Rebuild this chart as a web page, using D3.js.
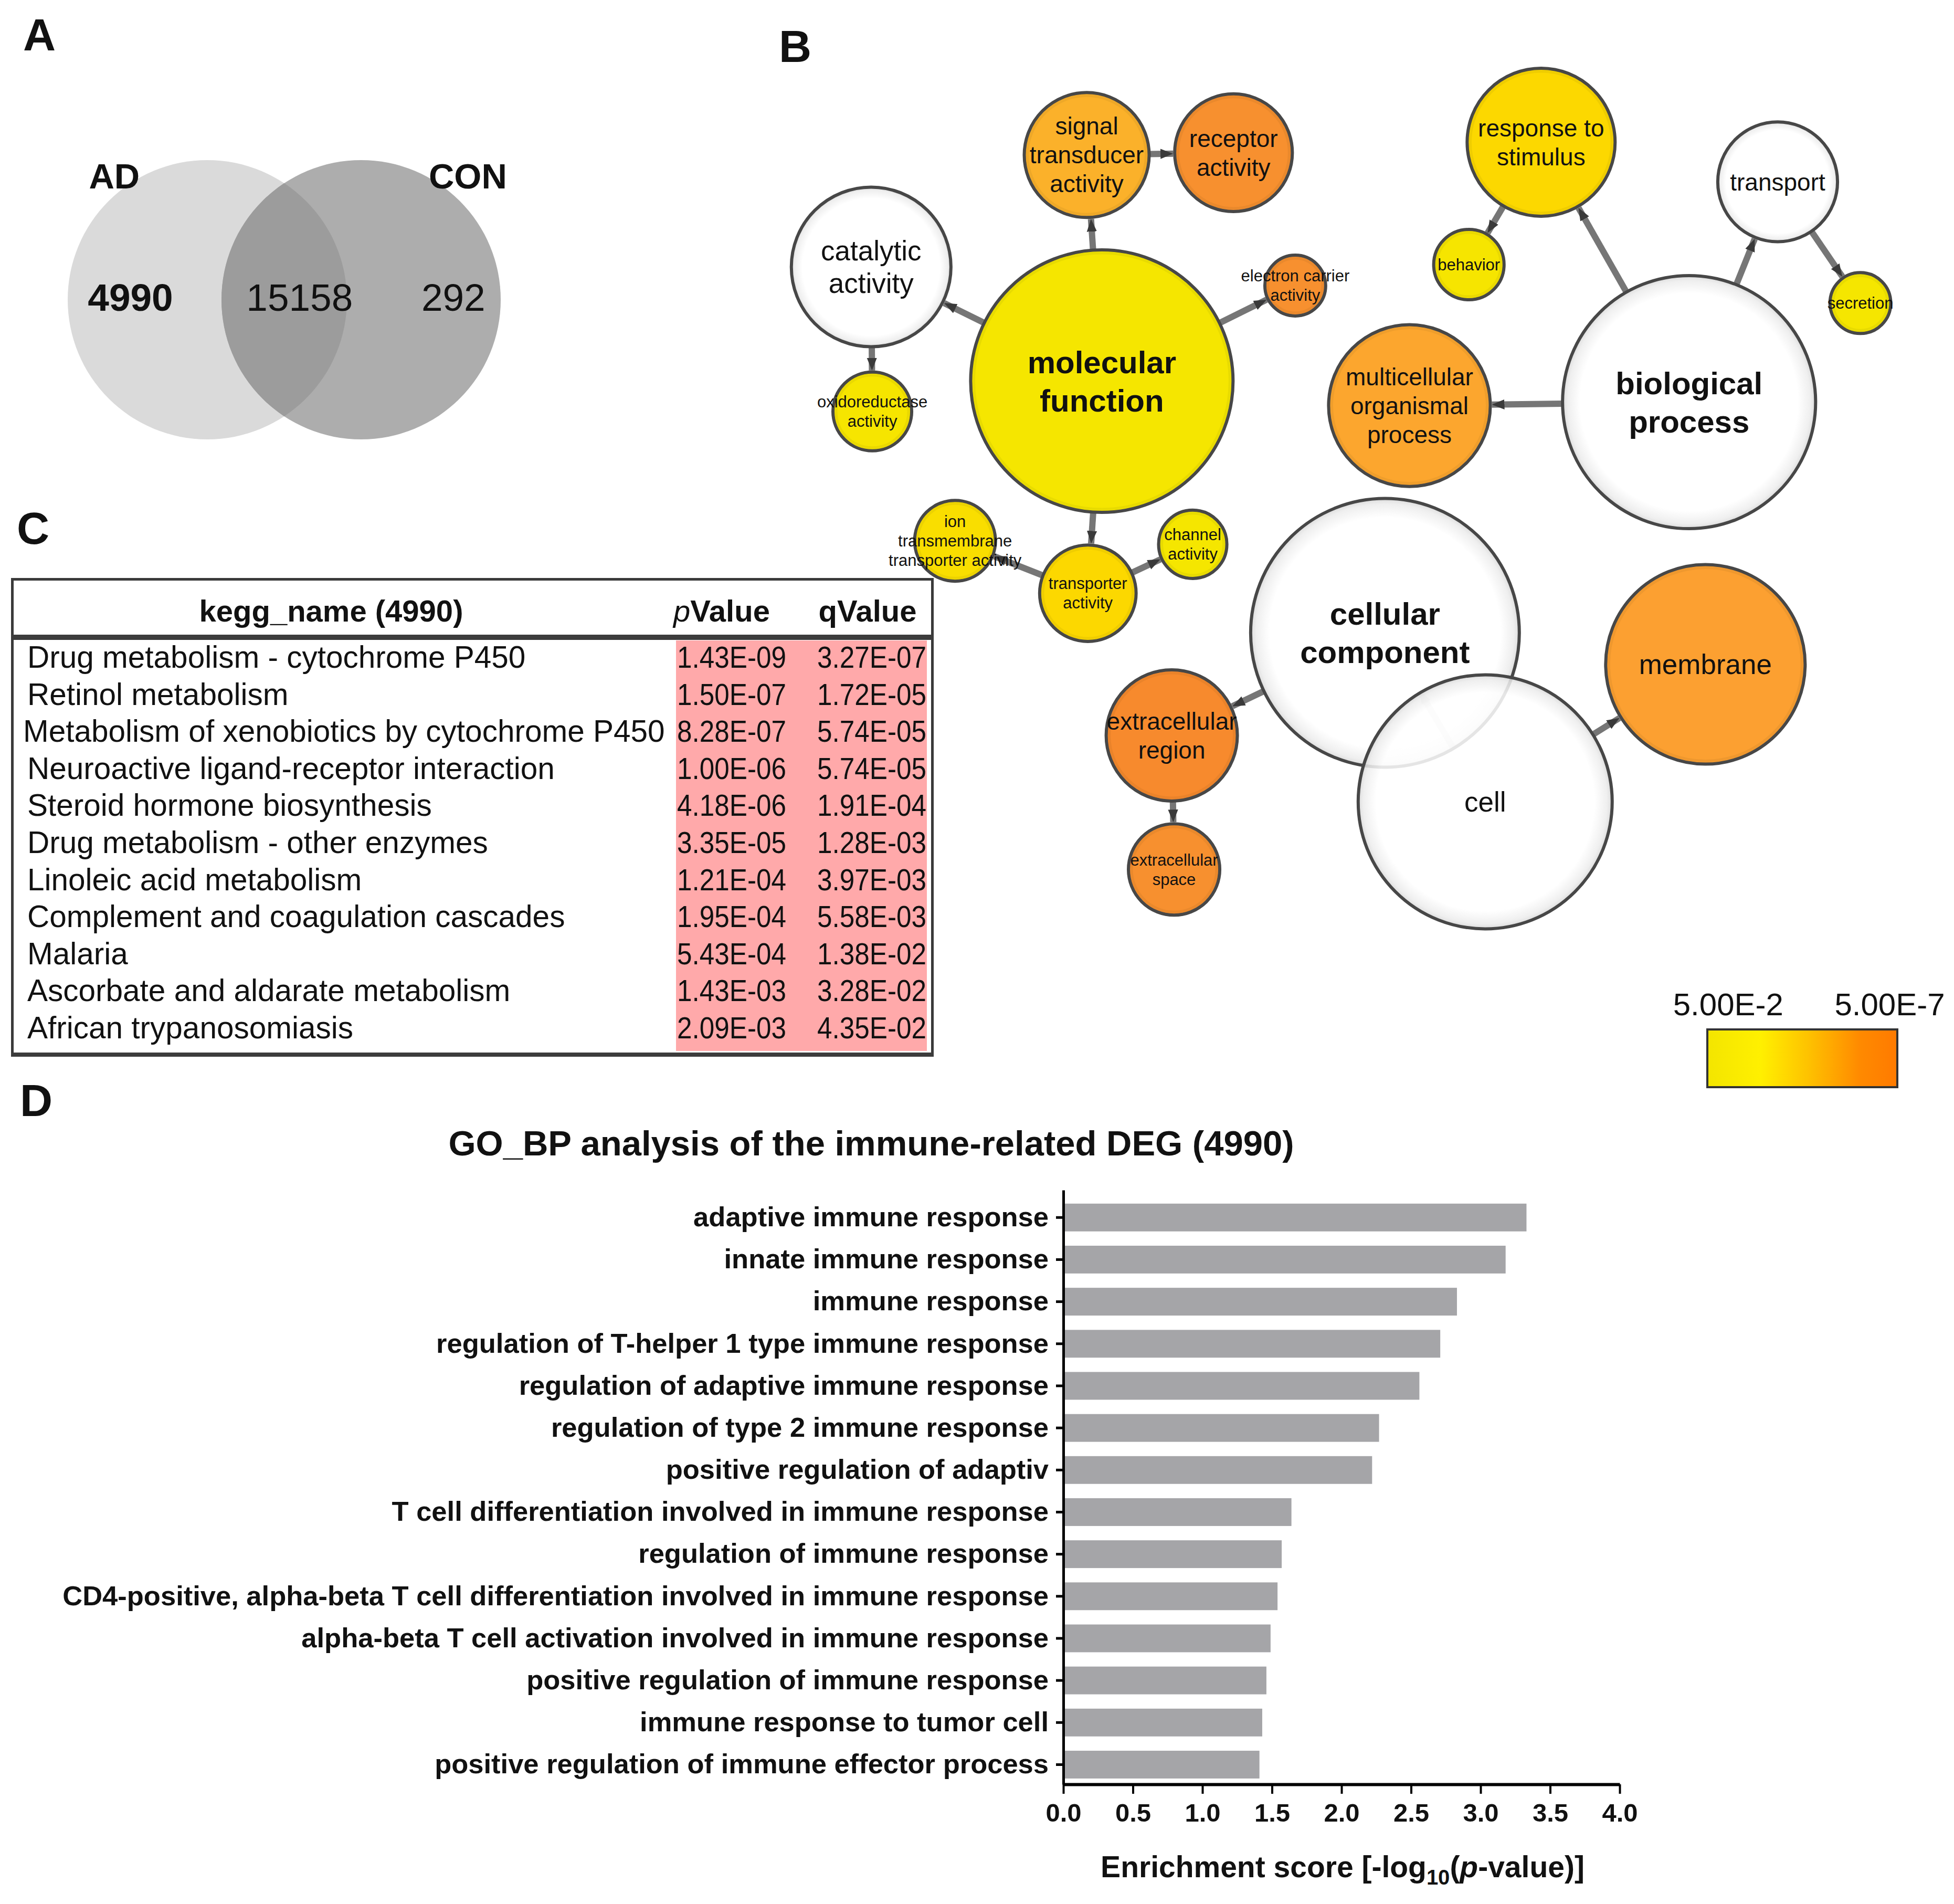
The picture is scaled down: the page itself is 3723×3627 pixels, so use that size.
<!DOCTYPE html>
<html>
<head>
<meta charset="utf-8">
<script src="https://cdn.jsdelivr.net/npm/d3@7"></script>
<style>
  body { margin: 0; background: #fff; }
  text { font-family: "Liberation Sans", Arial, Helvetica, sans-serif; fill: #111; }
</style>
</head>
<body>
<div id="fig"></div>
<script>
const WIDTH = 3723;
const HEIGHT = 3627;

// ---------- data ----------
// A: Venn counts (AD only, shared, CON only)
const vennSets = ["AD", "CON"];
const vennCounts = [4990, 15158, 292];

// B: GO bubble network (layout units, size units, -log10 p ; null = not significant)
const goIds = ["MF", "ST", "RA", "CA", "OX", "EC", "TA", "IT", "CH",
               "BP", "RS", "BEH", "TR", "SEC", "MOP",
               "CC", "ER", "ES", "CELL", "MEM"];
const goTerms = ["molecular\nfunction", "signal\ntransducer\nactivity", "receptor\nactivity",
                 "catalytic\nactivity", "oxidoreductase\nactivity", "electron carrier\nactivity",
                 "transporter\nactivity", "ion\ntransmembrane\ntransporter activity", "channel\nactivity",
                 "biological\nprocess", "response to\nstimulus", "behavior", "transport", "secretion",
                 "multicellular\norganismal\nprocess",
                 "cellular\ncomponent", "extracellular\nregion", "extracellular\nspace", "cell", "membrane"];
const goX = [27.9, 26.6, 39.2, 8.1, 8.2, 44.5, 26.7, 15.3, 35.7,
             78.3, 65.6, 59.4, 85.9, 93.0, 54.3,
             52.2, 33.9, 34.1, 60.8, 79.7];
const goY = [28.2, 8.8, 8.6, 18.4, 30.8, 20.0, 46.4, 41.9, 42.2,
             30.0, 7.7, 18.2, 11.1, 21.5, 30.3,
             49.8, 58.6, 70.1, 64.3, 52.5];
const goSize = [11.26, 5.36, 5.05, 6.85, 3.38, 2.61, 4.14, 3.47, 2.93,
                10.86, 6.35, 3.02, 5.14, 2.61, 6.94,
                11.53, 5.63, 3.92, 10.9, 8.56];
const goLogP = [1.3, 3.7, 5.5, null, 1.4, 5.5, 2.5, 2.0, 1.3,
                null, 2.5, 1.4, null, 1.3, 4.2,
                null, 5.9, 5.5, null, 4.5];
const goRoots = ["MF", "BP", "CC"];
const goEdges = [["MF", "ST"], ["ST", "RA"], ["MF", "CA"], ["CA", "OX"], ["MF", "EC"],
                 ["MF", "TA"], ["TA", "IT"], ["TA", "CH"],
                 ["BP", "RS"], ["RS", "BEH"], ["BP", "TR"], ["TR", "SEC"], ["BP", "MOP"],
                 ["CC", "ER"], ["ER", "ES"], ["CC", "CELL"], ["CELL", "MEM"]];
const legendLabels = ["5.00E-2", "5.00E-7"];

// C: KEGG table
const keggHeader = ["kegg_name (4990)", "pValue", "qValue"];
const keggNames = ["Drug metabolism - cytochrome P450", "Retinol metabolism",
                   "Metabolism of xenobiotics by cytochrome P450", "Neuroactive ligand-receptor interaction",
                   "Steroid hormone biosynthesis", "Drug metabolism - other enzymes",
                   "Linoleic acid metabolism", "Complement and coagulation cascades", "Malaria",
                   "Ascorbate and aldarate metabolism", "African trypanosomiasis"];
const keggP = ["1.43E-09", "1.50E-07", "8.28E-07", "1.00E-06", "4.18E-06", "3.35E-05",
               "1.21E-04", "1.95E-04", "5.43E-04", "1.43E-03", "2.09E-03"];
const keggQ = ["3.27E-07", "1.72E-05", "5.74E-05", "5.74E-05", "1.91E-04", "1.28E-03",
               "3.97E-03", "5.58E-03", "1.38E-02", "3.28E-02", "4.35E-02"];

// D: GO_BP bar chart
const bpTitle = "GO_BP analysis of the immune-related DEG (4990)";
const bpTerms = ["adaptive immune response", "innate immune response", "immune response",
                 "regulation of T-helper 1 type immune response", "regulation of adaptive immune response",
                 "regulation of type 2 immune response", "positive regulation of adaptiv",
                 "T cell differentiation involved in immune response", "regulation of immune response",
                 "CD4-positive, alpha-beta T cell differentiation involved in immune response",
                 "alpha-beta T cell activation involved in immune response",
                 "positive regulation of immune response", "immune response to tumor cell",
                 "positive regulation of immune effector process"];
const bpScores = [3.33, 3.18, 2.83, 2.71, 2.56, 2.27, 2.22, 1.64, 1.57, 1.54, 1.49, 1.46, 1.43, 1.41];
const bpTicks = [0, 0.5, 1, 1.5, 2, 2.5, 3, 3.5, 4];

// ---------- svg ----------
const SVG = d3.select("#fig").append("svg")
  .attr("width", WIDTH).attr("height", HEIGHT);
SVG.append("rect").attr("width", WIDTH).attr("height", HEIGHT).attr("fill", "#fff");
const defs = SVG.append("defs");

// panel letters
const letters = [["A", 44, 96], ["B", 1484, 118], ["C", 32, 1036], ["D", 38, 2126]];
SVG.selectAll(".letter").data(letters).join("text")
  .attr("class", "letter")
  .attr("x", d => d[1]).attr("y", d => d[2])
  .attr("font-size", 86).attr("font-weight", "bold")
  .text(d => d[0]);

// ---------- A: venn ----------
const xVenn = d3.scaleLinear().domain([0, 1]).range([395, 688]);
const vennR = 266, vennCy = 571;
const venn = SVG.append("g");
defs.append("clipPath").attr("id", "clipAD")
  .append("circle").attr("cx", xVenn(0)).attr("cy", vennCy).attr("r", vennR);
venn.append("circle").attr("cx", xVenn(0)).attr("cy", vennCy).attr("r", vennR).attr("fill", "#dadada");
venn.append("circle").attr("cx", xVenn(1)).attr("cy", vennCy).attr("r", vennR).attr("fill", "#adadad");
venn.append("circle").attr("cx", xVenn(1)).attr("cy", vennCy).attr("r", vennR)
  .attr("fill", "#9c9c9c").attr("clip-path", "url(#clipAD)");

venn.selectAll(".setlab").data(vennSets).join("text")
  .attr("class", "setlab")
  .attr("x", (d, i) => xVenn(i === 0 ? -0.77 : 1.44))
  .attr("y", 359)
  .attr("font-size", 67).attr("font-weight", "bold")
  .text(d => d);

const vennPos = [-0.5, 0.6, 1.6];
venn.selectAll(".count").data(vennCounts).join("text")
  .attr("class", "count")
  .attr("x", (d, i) => xVenn(vennPos[i]))
  .attr("y", 592)
  .attr("text-anchor", "middle")
  .attr("font-size", 73)
  .attr("font-weight", (d, i) => i === 0 ? "bold" : "normal")
  .text(d => d);

// ---------- B: GO network ----------
const xB = d3.scaleLinear().domain([0, 100]).range([1480, 3700]);
const yB = d3.scaleLinear().domain([0, 100]).range([100, 2320]);
const rB = d3.scaleLinear().domain([0, 100]).range([0, 2220]);
const colorP = d3.scaleLinear()
  .domain([1.3, 2.5, 3.7, 4.5, 5.5, 6.3])
  .range(["#f5e600", "#fcd800", "#fbb12a", "#fca031", "#f7902f", "#f7842a"]);

const nodes = goIds.map((id, i) => ({
  id: id,
  label: goTerms[i],
  cx: xB(goX[i]),
  cy: yB(goY[i]),
  r: rB(goSize[i]),
  logp: goLogP[i],
  root: goRoots.includes(id)
}));
const nodeById = new Map(nodes.map(d => [d.id, d]));

const wg = defs.append("radialGradient").attr("id", "whiteFill");
wg.append("stop").attr("offset", "0%").attr("stop-color", "#ffffff");
wg.append("stop").attr("offset", "86%").attr("stop-color", "#ffffff");
wg.append("stop").attr("offset", "96%").attr("stop-color", "#ececec");
wg.append("stop").attr("offset", "100%").attr("stop-color", "#d6d6d6");

defs.append("marker").attr("id", "arrow")
  .attr("viewBox", "0 -5 10 10").attr("refX", 10).attr("refY", 0)
  .attr("markerUnits", "userSpaceOnUse")
  .attr("markerWidth", 24).attr("markerHeight", 24)
  .attr("orient", "auto")
  .append("path").attr("d", "M0,-4L10,0L0,4Z").attr("fill", "#3a3a3a");

const net = SVG.append("g");
const edgeData = goEdges.map(e => {
  const s = nodeById.get(e[0]), t = nodeById.get(e[1]);
  const dx = t.cx - s.cx, dy = t.cy - s.cy;
  const len = Math.sqrt(dx * dx + dy * dy);
  const ux = dx / len, uy = dy / len;
  return {
    x1: s.cx + ux * s.r, y1: s.cy + uy * s.r,
    x2: t.cx - ux * (t.r + 3), y2: t.cy - uy * (t.r + 3)
  };
});
net.selectAll(".edge").data(edgeData).join("line")
  .attr("class", "edge")
  .attr("x1", d => d.x1).attr("y1", d => d.y1)
  .attr("x2", d => d.x2).attr("y2", d => d.y2)
  .attr("stroke", "#767676").attr("stroke-width", 12)
  .attr("marker-end", "url(#arrow)");

const nodeG = net.selectAll(".node").data(nodes).join("g").attr("class", "node");
nodeG.append("circle")
  .attr("cx", d => d.cx).attr("cy", d => d.cy).attr("r", d => d.r)
  .attr("fill", d => d.logp === null ? "url(#whiteFill)" : colorP(d.logp))
  .attr("fill-opacity", d => d.logp === null ? 0.86 : 1)
  .attr("stroke", "#474747").attr("stroke-width", 6);
// darker inner rim on coloured nodes
nodeG.filter(d => d.logp !== null).append("circle")
  .attr("cx", d => d.cx).attr("cy", d => d.cy).attr("r", d => d.r - 6)
  .attr("fill", "none")
  .attr("stroke", d => d3.color(colorP(d.logp)).darker(0.3))
  .attr("stroke-width", 5).attr("stroke-opacity", 0.5);

// a few terms are drawn with a larger label in the original
const bigLabels = ["CA", "CELL", "MEM"];
function labelStyle(d) {
  if (d.root) return { fs: 60, lh: 73, fw: "bold" };
  if (bigLabels.includes(d.id)) return { fs: 53, lh: 62, fw: "normal" };
  if (d.r >= 100) return { fs: 46, lh: 55, fw: "normal" };
  return { fs: 31, lh: 37, fw: "normal" };
}
nodeG.each(function(d) {
  const st = labelStyle(d);
  const lines = d.label.split("\n");
  const t = d3.select(this).append("text")
    .attr("text-anchor", "middle")
    .attr("font-size", st.fs).attr("font-weight", st.fw);
  lines.forEach((ln, i) => {
    t.append("tspan")
      .attr("x", d.cx)
      .attr("y", d.cy + (i - (lines.length - 1) / 2) * st.lh + 0.35 * st.fs)
      .text(ln);
  });
});

// legend
const lg = defs.append("linearGradient").attr("id", "legendGrad");
[["0%", "#f3e500"], ["28%", "#fff000"], ["52%", "#fec400"], ["80%", "#ff8a00"], ["100%", "#ff7a00"]]
  .forEach(s => lg.append("stop").attr("offset", s[0]).attr("stop-color", s[1]));
const xLeg = d3.scaleLinear().domain([0, 1]).range([3253, 3615]);
SVG.append("rect")
  .attr("x", xLeg(0)).attr("y", 1961)
  .attr("width", xLeg(1) - xLeg(0)).attr("height", 110)
  .attr("fill", "url(#legendGrad)")
  .attr("stroke", "#333").attr("stroke-width", 4);
SVG.selectAll(".leglab").data(legendLabels).join("text")
  .attr("class", "leglab")
  .attr("x", (d, i) => i === 0 ? xLeg(0.11) : xLeg(0.96))
  .attr("y", 1934)
  .attr("text-anchor", "middle")
  .attr("font-size", 60)
  .text(d => d);

// ---------- C: KEGG table ----------
const tab = SVG.append("g");
const yRow = d3.scalePoint().domain(d3.range(keggNames.length)).range([1272, 1978]);
tab.append("rect").attr("x", 1288).attr("y", 1220).attr("width", 478).attr("height", 782)
  .attr("fill", "#ffa9aa");
// borders
tab.append("rect").attr("x", 21).attr("y", 1101).attr("width", 1758).attr("height", 5).attr("fill", "#3a3a3a");
tab.append("rect").attr("x", 21).attr("y", 1101).attr("width", 5).attr("height", 912).attr("fill", "#3a3a3a");
tab.append("rect").attr("x", 1774).attr("y", 1101).attr("width", 5).attr("height", 912).attr("fill", "#3a3a3a");
tab.append("rect").attr("x", 21).attr("y", 1209).attr("width", 1758).attr("height", 10).attr("fill", "#3c3c3c");
tab.append("rect").attr("x", 21).attr("y", 2005).attr("width", 1758).attr("height", 8).attr("fill", "#3c3c3c");

const headX = [631, 1375, 1653];
const hdr = tab.selectAll(".hdr").data(keggHeader).join("text")
  .attr("class", "hdr")
  .attr("x", (d, i) => headX[i]).attr("y", 1184)
  .attr("text-anchor", "middle")
  .attr("font-size", 58).attr("font-weight", "bold");
hdr.each(function(d, i) {
  const t = d3.select(this);
  if (i === 1) {
    t.append("tspan").attr("font-style", "italic").attr("font-weight", "normal").text(d.slice(0, 1));
    t.append("tspan").text(d.slice(1));
  } else {
    t.text(d);
  }
});

tab.selectAll(".kname").data(keggNames).join("text")
  .attr("class", "kname")
  .attr("x", (d, i) => i === 2 ? 44 : 52)
  .attr("y", (d, i) => yRow(i))
  .attr("font-size", 58.5)
  .text(d => d);
tab.selectAll(".kp").data(keggP).join("text")
  .attr("class", "kp")
  .attr("x", 1290).attr("y", (d, i) => yRow(i))
  .attr("font-size", 58)
  .attr("textLength", 208).attr("lengthAdjust", "spacingAndGlyphs")
  .text(d => d);
tab.selectAll(".kq").data(keggQ).join("text")
  .attr("class", "kq")
  .attr("x", 1557).attr("y", (d, i) => yRow(i))
  .attr("font-size", 58)
  .attr("textLength", 208).attr("lengthAdjust", "spacingAndGlyphs")
  .text(d => d);

// ---------- D: bar chart ----------
const bar = SVG.append("g");
const xBar = d3.scaleLinear().domain([0, 4]).range([2026, 3086]);
const yBar = d3.scaleBand().domain(bpTerms).range([2267, 3399])
  .paddingInner(0.34).paddingOuter(0.23).align(0.7);

bar.append("text")
  .attr("x", 1660).attr("y", 2201)
  .attr("text-anchor", "middle")
  .attr("font-size", 67).attr("font-weight", "bold")
  .text(bpTitle);

bar.selectAll(".bar").data(bpTerms).join("rect")
  .attr("class", "bar")
  .attr("x", xBar(0))
  .attr("y", d => yBar(d))
  .attr("width", (d, i) => xBar(bpScores[i]) - xBar(0))
  .attr("height", yBar.bandwidth())
  .attr("fill", "#a5a5a8");

const yAxis = bar.append("g")
  .attr("transform", `translate(${xBar(0)},0)`)
  .call(d3.axisLeft(yBar).tickSize(14).tickPadding(14).tickSizeOuter(0));
yAxis.select(".domain").attr("stroke", "#000").attr("stroke-width", 5);
yAxis.selectAll(".tick line").attr("stroke", "#000").attr("stroke-width", 5);
yAxis.selectAll(".tick text")
  .attr("font-size", 52.5).attr("font-weight", "bold").attr("fill", "#111")
  .attr("font-family", "'Liberation Sans', Arial, sans-serif");

const xAxis = bar.append("g")
  .attr("transform", "translate(0,3399)")
  .call(d3.axisBottom(xBar).tickValues(bpTicks).tickFormat(d3.format(".1f"))
    .tickSize(18).tickPadding(18).tickSizeOuter(0));
xAxis.select(".domain").attr("stroke", "#000").attr("stroke-width", 6);
xAxis.selectAll(".tick line").attr("stroke", "#000").attr("stroke-width", 4);
xAxis.selectAll(".tick text")
  .attr("font-size", 49).attr("font-weight", "bold").attr("fill", "#111")
  .attr("font-family", "'Liberation Sans', Arial, sans-serif");

const xl = bar.append("text")
  .attr("x", 2558).attr("y", 3576)
  .attr("text-anchor", "middle")
  .attr("font-size", 57).attr("font-weight", "bold");
xl.append("tspan").text("Enrichment score [-log");
xl.append("tspan").attr("font-size", 40).attr("dy", 14).text("10");
xl.append("tspan").attr("dy", -14).text("(");
xl.append("tspan").attr("font-style", "italic").text("p");
xl.append("tspan").text("-value)]");
</script>
</body>
</html>
